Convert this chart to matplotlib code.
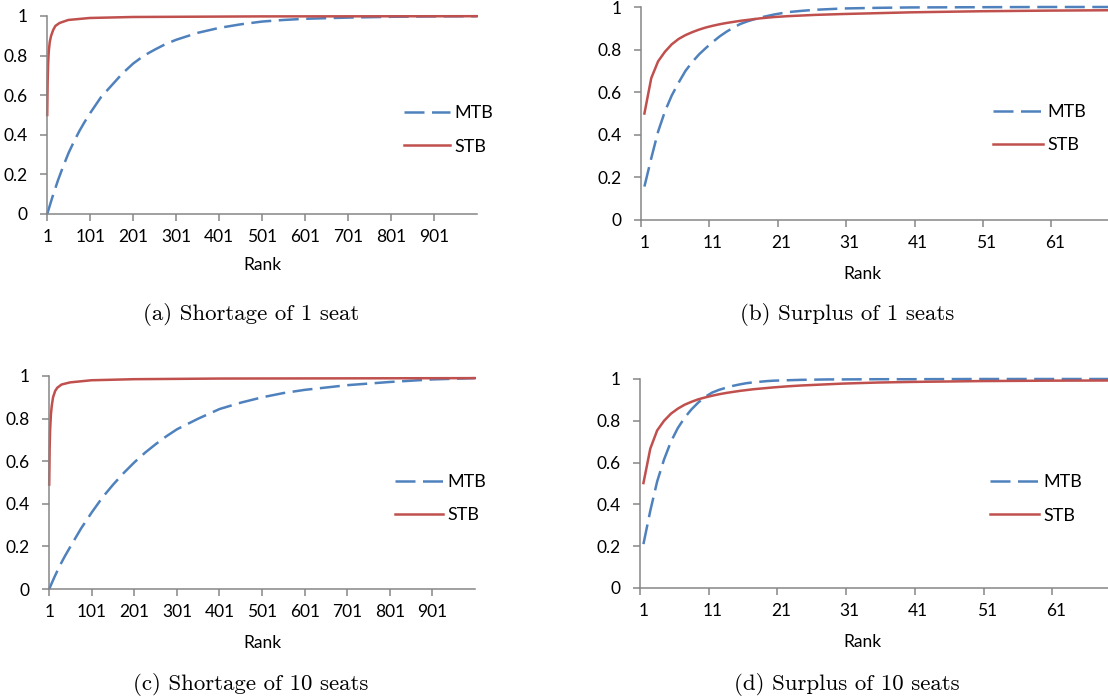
import matplotlib
matplotlib.use("Agg")
import matplotlib.pyplot as plt
from matplotlib.ticker import FixedLocator, NullFormatter, FixedFormatter

# ---------------- data ----------------
a_mtb_rank = [1, 13, 26, 38, 51, 63, 76, 88, 101, 126, 151, 176, 201, 226, 251, 276, 301, 351, 401, 451, 501, 551, 601, 701, 801, 901, 1000]
a_mtb = [0.0, 0.085, 0.17, 0.24, 0.31, 0.365, 0.42, 0.465, 0.51, 0.59, 0.65, 0.71, 0.76, 0.80, 0.83, 0.858, 0.88, 0.915, 0.94, 0.958, 0.972, 0.98, 0.986, 0.992, 0.996, 0.998, 0.999]
a_stb_rank = [1, 2, 3, 4, 5, 7, 10, 15, 20, 30, 50, 100, 200, 500, 1000]
a_stb = [0.5, 0.67, 0.75, 0.8, 0.83, 0.87, 0.9, 0.93, 0.95, 0.965, 0.98, 0.99, 0.995, 0.998, 0.999]

c_mtb_rank = [1, 13, 26, 38, 51, 76, 101, 126, 151, 176, 201, 226, 251, 276, 301, 351, 401, 451, 501, 551, 601, 701, 801, 901, 1000]
c_mtb = [0.0, 0.055, 0.11, 0.155, 0.20, 0.285, 0.36, 0.43, 0.49, 0.545, 0.595, 0.64, 0.68, 0.717, 0.75, 0.80, 0.845, 0.875, 0.90, 0.92, 0.935, 0.957, 0.972, 0.984, 0.99]
c_stb_rank = [1, 2, 3, 5, 7, 10, 15, 20, 30, 50, 100, 200, 400, 700, 1000]
c_stb = [0.49, 0.66, 0.74, 0.82, 0.86, 0.90, 0.93, 0.945, 0.96, 0.97, 0.98, 0.985, 0.988, 0.989, 0.99]

bd_rank = list(range(1, 21)) + [22, 24, 26, 28, 30, 35, 40, 50, 60, 70]
b_mtb = [0.157, 0.29, 0.415, 0.51, 0.585, 0.645, 0.70, 0.742, 0.778, 0.808, 0.836, 0.862, 0.884, 0.903, 0.92, 0.932, 0.942, 0.951, 0.958, 0.965,
         0.976, 0.982, 0.987, 0.99, 0.993, 0.996, 0.998, 0.999, 1.0, 1.0]
b_stb = [0.5, 0.666, 0.745, 0.79, 0.825, 0.85, 0.868, 0.882, 0.894, 0.904, 0.912, 0.919, 0.925, 0.93, 0.935, 0.939, 0.943, 0.947, 0.95, 0.953,
         0.957, 0.96, 0.963, 0.965, 0.967, 0.971, 0.975, 0.98, 0.983, 0.985]
d_mtb = [0.21, 0.37, 0.51, 0.615, 0.70, 0.765, 0.815, 0.855, 0.888, 0.915, 0.935, 0.948, 0.958, 0.967, 0.974, 0.98, 0.984, 0.987, 0.99, 0.992,
         0.994, 0.996, 0.997, 0.998, 0.998, 0.999, 0.999, 1.0, 1.0, 1.0]
d_stb = [0.502, 0.667, 0.754, 0.80, 0.834, 0.858, 0.877, 0.891, 0.903, 0.912, 0.92, 0.927, 0.933, 0.938, 0.943, 0.947, 0.951, 0.954, 0.957, 0.96,
         0.965, 0.969, 0.972, 0.975, 0.978, 0.983, 0.986, 0.99, 0.992, 0.993]

long_ticks = [1, 101, 201, 301, 401, 501, 601, 701, 801, 901]
short_ticks = [1, 11, 21, 31, 41, 51, 61]
y_ticks = [0, 0.2, 0.4, 0.6, 0.8, 1]
y_labels = ["0", "0.2", "0.4", "0.6", "0.8", "1"]
series_names = ["MTB", "STB"]
captions = ["(a) Shortage of 1 seat", "(b) Surplus of 1 seats",
            "(c) Shortage of 10 seats", "(d) Surplus of 10 seats"]

# ---------------- styling ----------------
W, H = 1108, 700
BLUE = "#4F81BD"
RED = "#C0504D"
AX = "#868686"
TICK_FS = 12.5
plt.rcParams["font.family"] = ["Lato", "DejaVu Sans"]

fig = plt.figure(figsize=(W / 100, H / 100), dpi=100)


def px_axes(left, top, right, bottom):
    return fig.add_axes([left / W, 1 - bottom / H, (right - left) / W, (bottom - top) / H])


def style(ax):
    for s in ["top", "right"]:
        ax.spines[s].set_visible(False)
    for s in ["left", "bottom"]:
        ax.spines[s].set_color(AX)
        ax.spines[s].set_linewidth(1.1)
    ax.set_ylim(0, 1)
    ax.yaxis.set_major_locator(FixedLocator(y_ticks))
    ax.yaxis.set_major_formatter(FixedFormatter(y_labels))
    ax.tick_params(axis="y", direction="out", length=5, width=1.1, color=AX, pad=9, labelsize=TICK_FS)
    ax.tick_params(axis="x", which="major", direction="out", length=5, width=1.1, color=AX)
    ax.tick_params(axis="x", which="minor", length=0, pad=11, labelsize=TICK_FS)


def plot_series(ax, xm, ym, xs, ys):
    l1, = ax.plot(xm, ym, color=BLUE, lw=1.8, dashes=(8, 3), clip_on=False, label=series_names[0])
    l2, = ax.plot(xs, ys, color=RED, lw=1.8, clip_on=False, label=series_names[1])
    return l1, l2


def long_axis(ax):
    ax.set_xlim(0.5, 1000.5)
    ax.xaxis.set_major_locator(FixedLocator([t - 0.5 for t in long_ticks]))
    ax.xaxis.set_major_formatter(NullFormatter())
    ax.xaxis.set_minor_locator(FixedLocator(long_ticks))
    ax.xaxis.set_minor_formatter(FixedFormatter([str(t) for t in long_ticks]))


def short_axis(ax):
    ax.set_xlim(0.5, 70.5)
    ax.xaxis.set_major_locator(FixedLocator([t - 0.5 for t in short_ticks]))
    ax.xaxis.set_major_formatter(NullFormatter())
    ax.xaxis.set_minor_locator(FixedLocator(short_ticks))
    ax.xaxis.set_minor_formatter(FixedFormatter([str(t) for t in short_ticks]))


def add_legend(ax, handles, x, y, hl):
    ax.legend(handles=handles, loc="center left", bbox_to_anchor=(x / W, 1 - y / H),
              bbox_transform=fig.transFigure, frameon=False, borderpad=0, borderaxespad=0,
              handlelength=hl, handletextpad=0.25, labelspacing=0.95, fontsize=13)


def rank_label(ax, x, y):
    ax.set_xlabel("Rank", fontsize=12.5)
    ax.xaxis.set_label_coords(x / W, 1 - y / H, transform=fig.transFigure)
    ax.xaxis.label.set_va("center")


# (a)
axa = px_axes(47, 16, 477, 214)
style(axa)
long_axis(axa)
h = plot_series(axa, a_mtb_rank, a_mtb, a_stb_rank, a_stb)
add_legend(axa, h, 404, 130, 2.55)
rank_label(axa, 262, 265)

# (b)
axb = px_axes(641, 7, 641 + 70 * 6.84, 220)
style(axb)
short_axis(axb)
h = plot_series(axb, bd_rank, b_mtb, bd_rank, b_stb)
add_legend(axb, h, 993, 128.5, 2.75)
rank_label(axb, 862, 274)

# (c)
axc = px_axes(49, 376, 475, 589)
style(axc)
long_axis(axc)
h = plot_series(axc, c_mtb_rank, c_mtb, c_stb_rank, c_stb)
add_legend(axc, h, 395, 498.5, 2.65)
rank_label(axc, 262, 643)

# (d)
axd = px_axes(640, 379, 640 + 70 * 6.87, 588)
style(axd)
short_axis(axd)
h = plot_series(axd, bd_rank, d_mtb, bd_rank, d_stb)
add_legend(axd, h, 990, 499, 2.7)
rank_label(axd, 862, 642)

# captions
cap_pos = [(251, 315), (847, 315), (251, 685), (847, 685)]
for txt, (x, y) in zip(captions, cap_pos):
    fig.text(x / W, 1 - y / H, txt, ha="center", va="center", fontsize=16.5, family="cmr10")

fig.savefig("out.png", dpi=100)
